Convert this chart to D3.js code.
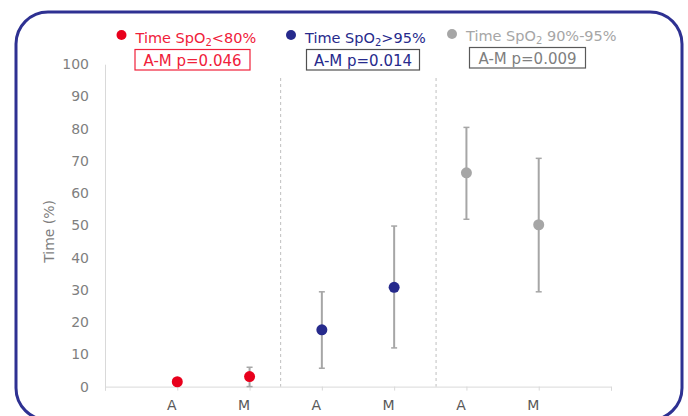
<!DOCTYPE html>
<html>
<head>
<meta charset="utf-8">
<script src="https://cdn.jsdelivr.net/npm/d3@7"></script>
<style>
  body { margin: 0; background: #fff; }
  svg { display: block; font-family: "DejaVu Sans", Verdana, sans-serif; }
</style>
</head>
<body>
<script>
// data
const groups = ["lt80", "gt95", "mid"];
const groupNames = ["Time SpO|2|<80%", "Time SpO|2|>95%", "Time SpO|2| 90%-95%"];
const groupColors = ["#e8001c", "#262a8c", "#a6a6a6"];
const pValues = ["A-M p=0.046", "A-M p=0.014", "A-M p=0.009"];
const categories = ["", "A", "M", "A", "M", "A", "M", ""];
const pointX = [1, 2, 3, 4, 5, 6];
const pointGroup = [0, 0, 1, 1, 2, 2];
const means = [1.5, 3.1, 17.6, 30.8, 66.3, 50.2];
const lows = [1.5, 0, 5.7, 12.0, 51.9, 29.4];
const highs = [1.5, 6.0, 29.4, 49.8, 80.4, 70.8];
const dividers = [2.43, 4.58];
const yTicks = d3.range(0, 101, 10);

const width = 688, height = 416;
const svg = d3.select("body").append("svg")
    .attr("width", width)
    .attr("height", height);

// rounded frame
svg.append("rect")
    .attr("x", 16).attr("y", 12)
    .attr("width", 666).attr("height", 408)
    .attr("rx", 32).attr("ry", 32)
    .attr("fill", "none")
    .attr("stroke", "#2e3192")
    .attr("stroke-width", 3);

const x = d3.scaleLinear().domain([0, 7]).range([105, 611]);
const y = d3.scaleLinear().domain([0, 100]).range([386.6, 64.2]);

// y axis
const yAxis = svg.append("g")
    .attr("transform", `translate(${x(0)},0)`)
    .call(d3.axisLeft(y).tickValues(yTicks).tickSize(0).tickPadding(16));
yAxis.select(".domain").attr("stroke", "#d9d9d9");
yAxis.selectAll("text")
    .attr("fill", "#7f7f7f")
    .style("font-size", "14px")
    .style("font-family", "DejaVu Sans");

// x axis
const xAxis = svg.append("g")
    .attr("transform", `translate(0,${y(0)})`)
    .call(d3.axisBottom(x)
        .tickValues(d3.range(0, 8))
        .tickSize(4)
        .tickPadding(9)
        .tickFormat(i => categories[i]));
xAxis.select(".domain").attr("stroke", "#d9d9d9");
xAxis.selectAll("line").attr("stroke", "#d9d9d9");
xAxis.selectAll("text")
    .attr("fill", "#595959")
    .attr("dx", -6)
    .style("font-size", "14px")
    .style("font-family", "DejaVu Sans");

// y title
svg.append("text")
    .attr("transform", `translate(54,${(y(0) + y(100)) / 2 + 6}) rotate(-90)`)
    .attr("text-anchor", "middle")
    .attr("fill", "#7f7f7f")
    .style("font-size", "14px")
    .text("Time (%)");

// dashed dividers
svg.selectAll(".divider")
    .data(dividers)
    .join("line")
    .attr("class", "divider")
    .attr("x1", d => x(d)).attr("x2", d => x(d))
    .attr("y1", 78).attr("y2", y(0))
    .attr("stroke", "#bfbfbf")
    .attr("stroke-width", 1)
    .attr("stroke-dasharray", "3,3");

// error bars
const bars = svg.append("g");
pointX.forEach((px, i) => {
    if (highs[i] === lows[i]) return;
    const cx = x(px);
    bars.append("line")
        .attr("x1", cx).attr("x2", cx)
        .attr("y1", y(lows[i])).attr("y2", y(highs[i]))
        .attr("stroke", "#a6a6a6").attr("stroke-width", 2);
    [lows[i], highs[i]].forEach(v => {
        bars.append("line")
            .attr("x1", cx - 3).attr("x2", cx + 3)
            .attr("y1", y(v)).attr("y2", y(v))
            .attr("stroke", "#a6a6a6").attr("stroke-width", 1.5);
    });
});

// points
svg.selectAll(".pt")
    .data(means)
    .join("circle")
    .attr("class", "pt")
    .attr("cx", (d, i) => x(pointX[i]))
    .attr("cy", d => y(d))
    .attr("r", 5.5)
    .attr("fill", (d, i) => groupColors[pointGroup[i]]);

// legend
const legendDotX = [121.5, 291, 452];
const legendDotY = [35, 35, 34];
const legendTextY = [43, 43, 41];
const legendTextColors = ["#f0203a", "#262a8c", "#a6a6a6"];
const pColors = ["#f0203a", "#262a8c", "#7f7f7f"];
const pBorders = ["#f0203a", "#505050", "#595959"];
const boxX = [135, 306.5, 469.5];
const boxW = [115, 113, 116];
const boxY = [49.5, 49.5, 47.5];

groups.forEach((g, i) => {
    const leg = svg.append("g");
    leg.append("circle")
        .attr("cx", legendDotX[i]).attr("cy", legendDotY[i]).attr("r", 5)
        .attr("fill", groupColors[i]);
    const t = leg.append("text")
        .attr("x", legendDotX[i] + 14).attr("y", legendTextY[i])
        .attr("fill", legendTextColors[i])
        .style("font-size", "14.5px");
    const parts = groupNames[i].split("|");
    t.append("tspan").text(parts[0]);
    t.append("tspan").attr("dy", 3).style("font-size", "10px").text(parts[1]);
    t.append("tspan").attr("dy", -3).text(parts[2]);

    leg.append("rect")
        .attr("x", boxX[i]).attr("y", boxY[i])
        .attr("width", boxW[i]).attr("height", 20.5)
        .attr("fill", "#fff")
        .attr("stroke", pBorders[i]).attr("stroke-width", 1.2);
    leg.append("text")
        .attr("x", boxX[i] + boxW[i] / 2).attr("y", boxY[i] + 16)
        .attr("text-anchor", "middle")
        .attr("fill", pColors[i])
        .style("font-size", "15px")
        .text(pValues[i]);
});
</script>
</body>
</html>
